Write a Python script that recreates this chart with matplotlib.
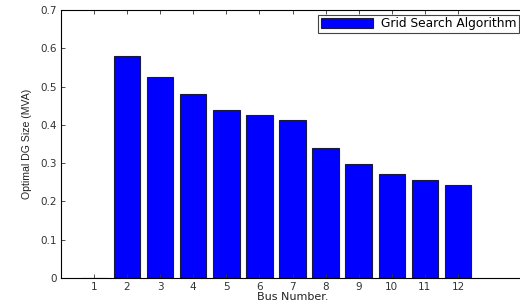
import matplotlib
matplotlib.use('Agg')
import matplotlib.pyplot as plt

# bus numbers and optimal DG size (MVA)
buses = [1, 2, 3, 4, 5, 6, 7, 8, 9, 10, 11, 12]
dg_size = [0.0, 0.581, 0.524, 0.480, 0.440, 0.426, 0.412, 0.340, 0.299, 0.271, 0.257, 0.242]

plt.rcParams['font.family'] = ['DejaVu Sans']

fig = plt.figure(figsize=(5.2, 3.06), dpi=100)
ax = fig.add_axes([0.117, 0.0915, 0.891, 0.8755])

ax.bar(buses, dg_size, width=0.8, color='#0000ff', edgecolor='#1a1a40',
       linewidth=0.8, label='Grid Search Algorithm')

ax.set_xlim(0, 14)
ax.set_ylim(0, 0.7)
ax.set_xticks(buses)
ax.set_yticks([0, 0.1, 0.2, 0.3, 0.4, 0.5, 0.6, 0.7])
ax.set_yticklabels(['0', '0.1', '0.2', '0.3', '0.4', '0.5', '0.6', '0.7'])
ax.tick_params(direction='in', top=True, right=True, labelsize=7.5,
               length=3, width=0.6, colors='#333333', pad=3)
for s in ax.spines.values():
    s.set_linewidth(0.8)

ax.set_xlabel('Bus Number.', fontsize=8, labelpad=0, color='#222222')
ax.set_ylabel('Optimal DG Size (MVA)', fontsize=7.6, labelpad=6,
              family='Liberation Sans', color='#222222')

leg = ax.legend(loc='upper right', bbox_to_anchor=(0.988, 0.982), fontsize=8.8,
                fancybox=False, framealpha=1, edgecolor='#444444',
                handlelength=4.3, handleheight=0.85, borderpad=0.2,
                handletextpad=0.6, borderaxespad=0)
leg.get_frame().set_linewidth(0.8)

fig.savefig('out.png', dpi=100)
